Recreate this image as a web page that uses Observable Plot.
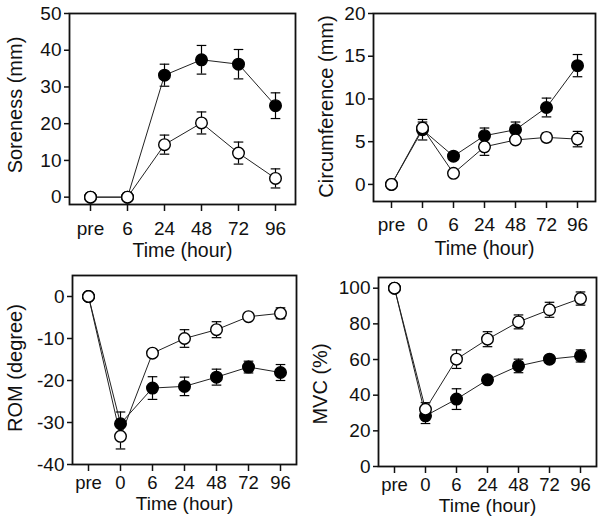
<!DOCTYPE html>
<html>
<head>
<meta charset="utf-8">
<script src="https://cdn.jsdelivr.net/npm/d3@7"></script>
<script src="https://cdn.jsdelivr.net/npm/@observablehq/plot@0.6"></script>
<style>
  html, body { margin: 0; padding: 0; background: #fff; }
  #wrap { position: relative; width: 600px; height: 524px; overflow: hidden; }
  #wrap > div { position: absolute; }
</style>
</head>
<body>
<div id="wrap">
  <div id="p1" style="left:0;top:0"></div>
  <div id="p2" style="left:300px;top:0"></div>
  <div id="p3" style="left:0;top:262px"></div>
  <div id="p4" style="left:300px;top:262px"></div>
</div>
<script>
// ---------- data ----------
const sorenessTime = ["pre", "6", "24", "48", "72", "96"];
const sorenessFilled = [0, 0, 33.2, 37.4, 36.2, 24.9];
const sorenessFilledErr = [0, 0, 3.0, 3.9, 4.0, 3.5];
const sorenessOpen = [0, 0, 14.3, 20.2, 12.0, 5.1];
const sorenessOpenErr = [0, 0, 2.6, 3.0, 3.0, 2.6];
const sorenessTicks = [0, 10, 20, 30, 40, 50];

const timeAll = ["pre", "0", "6", "24", "48", "72", "96"];

const circFilled = [0, 6.4, 3.3, 5.7, 6.4, 9.0, 13.9];
const circFilledErr = [0, 1.2, 0.4, 0.9, 0.9, 1.1, 1.3];
const circOpen = [0, 6.6, 1.3, 4.4, 5.2, 5.5, 5.3];
const circOpenErr = [0, 0.7, 0.3, 1.0, 0.4, 0.5, 0.9];
const circTicks = [0, 5, 10, 15, 20];

const romFilled = [0, -30.3, -21.8, -21.4, -19.2, -16.8, -18.1];
const romFilledErr = [0, 2.8, 2.7, 2.2, 1.9, 1.4, 1.9];
const romOpen = [0, -33.3, -13.5, -10.0, -7.9, -4.8, -4.0];
const romOpenErr = [0, 3.0, 0.6, 2.1, 1.9, 0.6, 1.3];
const romTicks = [-40, -30, -20, -10, 0];

const mvcFilled = [100, 28.4, 37.8, 48.6, 56.4, 60.2, 62.0];
const mvcFilledErr = [0, 4.3, 5.8, 2.0, 3.8, 2.0, 3.4];
const mvcOpen = [100, 32.1, 60.2, 71.4, 81.1, 87.9, 94.2];
const mvcOpenErr = [0, 3.7, 5.2, 4.2, 3.9, 4.2, 3.7];
const mvcTicks = [0, 20, 40, 60, 80, 100];

const xTitle = "Time (hour)";

// ---------- drawing ----------
const cap = {
  draw(context, size) {
    const w = Math.sqrt(size / Math.PI);
    context.moveTo(-w, 0);
    context.lineTo(w, 0);
  }
};

function rows(time, vals, errs) {
  return time.map((t, i) => ({t, v: vals[i], e: errs[i]}));
}

function panel(el, cfg) {
  const filled = rows(cfg.time, cfg.filled, cfg.filledErr);
  const open = rows(cfg.time, cfg.open, cfg.openErr);
  const errMarks = (data) => [
    Plot.ruleX(data, {x: "t", y1: d => d.v - d.e, y2: d => d.v + d.e, stroke: "#000", strokeWidth: 1.2}),
    Plot.dot(data, {x: "t", y: d => d.v + d.e, symbol: cap, r: 4.8, stroke: "#000", strokeWidth: 1.2, fill: "none"}),
    Plot.dot(data, {x: "t", y: d => d.v - d.e, symbol: cap, r: 4.8, stroke: "#000", strokeWidth: 1.2, fill: "none"})
  ];
  const dotOpts = {x: "t", y: "v", r: 5.8, stroke: "#000", strokeWidth: 1.4};
  const dotF = Plot.dot(filled, {...dotOpts, fill: "#000"});
  const dotO = Plot.dot(open, {...dotOpts, fill: "#fff"});
  const dots = cfg.filledOnTop
    ? [dotO, dotF, Plot.dot(open, {...dotOpts, fill: "#fff", filter: d => d.t === "pre"})]
    : [dotF, dotO];
  const chart = Plot.plot({
    width: 300,
    height: 262,
    marginLeft: cfg.ml,
    marginRight: cfg.mr,
    marginTop: cfg.mt,
    marginBottom: cfg.mb,
    style: {fontFamily: "'Liberation Sans', Arial, sans-serif", fontSize: "19px", color: "#111", background: "#fff"},
    x: {type: "point", domain: cfg.time, padding: 0.5},
    y: {domain: cfg.ydomain},
    marks: [
      ...errMarks(filled),
      ...errMarks(open),
      Plot.line(filled, {x: "t", y: "v", stroke: "#222", strokeWidth: 1}),
      Plot.line(open, {x: "t", y: "v", stroke: "#222", strokeWidth: 1}),
      ...dots,
      Plot.frame({stroke: "#111", strokeWidth: 1.8}),
      Plot.axisX({tickSize: 7, tickPadding: cfg.xpad, strokeWidth: 1.5, fontSize: cfg.tfs, label: null}),
      Plot.axisY({ticks: cfg.ticks, tickFormat: d => String(d), tickSize: 5, tickPadding: 3, strokeWidth: 1.5, fontSize: 19, label: null}),
      Plot.text([xTitle], {frameAnchor: "bottom", lineAnchor: "bottom", textAnchor: "middle", dy: cfg.xlo, fontSize: cfg.xfs, fill: "#111"}),
      Plot.text([cfg.label], {frameAnchor: "left", lineAnchor: "top", textAnchor: "middle", rotate: -90, dx: -cfg.ylo, dy: cfg.ydy, fontSize: 20, fill: "#111"})
    ]
  });
  document.getElementById(el).appendChild(chart);
}

panel("p1", {time: sorenessTime, filled: sorenessFilled, filledErr: sorenessFilledErr, open: sorenessOpen, openErr: sorenessOpenErr,
  ticks: sorenessTicks, ydomain: [-2, 50], label: "Soreness (mm)", ml: 69, mr: 5, mt: 13, mb: 58,
  xpad: 10, xlo: 52, ylo: 62, ydy: -4, tfs: 19, xfs: 19.5});
panel("p2", {time: timeAll, filled: circFilled, filledErr: circFilledErr, open: circOpen, openErr: circOpenErr,
  ticks: circTicks, ydomain: [-2, 20], label: "Circumference (mm)", ml: 73, mr: 5, mt: 13, mb: 61,
  xpad: 8.5, xlo: 53, ylo: 55, ydy: -1, tfs: 19, xfs: 19.5});
panel("p3", {time: timeAll, filled: romFilled, filledErr: romFilledErr, open: romOpen, openErr: romOpenErr,
  ticks: romTicks, ydomain: [-40, 5], label: "ROM (degree)", ml: 72, mr: 4, mt: 13, mb: 60,
  xpad: 4, xlo: 45, ylo: 65, ydy: -2, filledOnTop: true, tfs: 18.5, xfs: 19});
panel("p4", {time: timeAll, filled: mvcFilled, filledErr: mvcFilledErr, open: mvcOpen, openErr: mvcOpenErr,
  ticks: mvcTicks, ydomain: [0, 106], label: "MVC (%)", ml: 78, mr: 4, mt: 15, mb: 58,
  xpad: 4, xlo: 45, ylo: 66, ydy: 12, tfs: 18.5, xfs: 19});
</script>
</body>
</html>
